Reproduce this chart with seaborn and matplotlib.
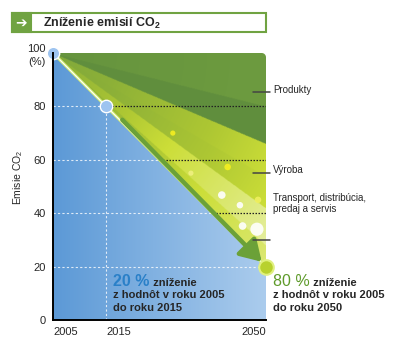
import numpy as np
import pandas as pd
import seaborn as sns
import matplotlib.pyplot as plt
from matplotlib.patches import Polygon, Rectangle
from matplotlib.colors import LinearSegmentedColormap

# data: emission path (index 100 = 2005)
years = ['2005', '2015', '2050']
xpos = [0, 1, 4]
emis = [100, 80, 20]
yticks = [0, 20, 40, 60, 80, 100]
sectors = ['Produkty', 'Výroba', 'Transport, distribúcia,\npredaj a servis']
sector_y = [86, 56, 43.5]
marks_y = [85.4, 55, 30]
dotted_y = [80, 60, 40]
glow_x = [2.25, 3.28, 2.59, 3.17, 3.51, 3.85, 3.56, 3.83]
glow_y = [70, 57.3, 55, 46.8, 43, 45, 35.2, 34]
glow_s = [14, 22, 14, 30, 22, 22, 30, 90]
glow_c = ['#f5f020', '#f5f020', '#f0f080', '#ffffff', '#ffffff', '#f0f060', '#ffffff', '#ffffff']

# wedge bands of the green area (angle from the 2005 point, degrees) and their shade
band_edges = [0, 14, 23, 30, 36, 42, 46]
band_shade = [0.08, 0.0, 0.62, 0.6, 0.82, 0.7]

sns.set_style("white")
plt.rcParams['font.family'] = ['Liberation Sans Narrow', 'Liberation Sans', 'DejaVu Sans']
plt.rcParams['mathtext.default'] = 'regular'
bold_fam = ['Liberation Sans', 'DejaVu Sans']

fig = plt.figure(figsize=(4, 3.54), dpi=100)
ax = fig.add_axes([53/400, 34/354, 213/400, 267/354])

# background gradients
X, Y = np.meshgrid(np.linspace(0, 4, 500), np.linspace(0, 100, 400))
dx = X*20
dy = 100 - Y
phi = np.degrees(np.arctan2(dy, dx))
r = np.clip(np.hypot(dx, dy)/113, 0, 1)
idx = np.clip(np.digitize(phi, band_edges) - 1, 0, len(band_shade) - 1)
t = np.array(band_shade)[idx]*(0.35 + 0.65*r)
gcmap = LinearSegmentedColormap.from_list('g', [
    (0.0, (0.38, 0.56, 0.24)), (0.08, (0.44, 0.62, 0.25)), (0.3, (0.55, 0.69, 0.22)),
    (0.45, (0.68, 0.78, 0.20)), (0.55, (0.80, 0.87, 0.22)), (0.7, (0.86, 0.91, 0.45)),
    (0.85, (0.92, 0.95, 0.72)), (1.0, (0.99, 1.0, 0.95))])
bcmap = LinearSegmentedColormap.from_list('b', [(0.36, 0.60, 0.84), (0.67, 0.80, 0.93)])

# green triangle with a small rounded top-right corner
a = np.linspace(0, np.pi/2, 8)
corner = [(4 - 0.08 + 0.08*np.cos(v), 100 - 1.6 + 1.6*np.sin(v)) for v in a[::-1]]
gpoly = Polygon([(0, 100)] + corner + [(4, 20)], closed=True, transform=ax.transData,
                facecolor='none', edgecolor='none')
bpoly = Polygon([(0, 100), (4, 20), (4, 0), (0, 0)], closed=True, transform=ax.transData, facecolor='none', edgecolor='none')
ax.add_patch(gpoly)
ax.add_patch(bpoly)
im1 = ax.imshow(t, extent=(0, 4, 0, 100), origin='lower', aspect='auto', cmap=gcmap, vmin=0, vmax=1,
                zorder=1, interpolation='bilinear')
im1.set_clip_path(gpoly)
im2 = ax.imshow(X, extent=(0, 4, 0, 100), origin='lower', aspect='auto', cmap=bcmap, vmin=0, vmax=4, zorder=1)
im2.set_clip_path(bpoly)

# grid lines
for yv in [80, 60, 40, 20]:
    xe = (100 - yv)/20
    ax.plot([0, xe], [yv, yv], color='white', lw=0.8, ls=(0, (2, 2)), alpha=0.8, zorder=2)
ax.plot([1, 1], [0, 80], color='white', lw=0.8, ls=(0, (2, 2)), alpha=0.8, zorder=2)
for yv in dotted_y:
    xs = (100 - yv)/20
    ax.plot([xs, 4], [yv, yv], color='#222222', lw=0.9, ls=(0, (1.2, 1.2)), zorder=2)

sns.scatterplot(x=glow_x, y=glow_y, s=glow_s, c=glow_c, edgecolor='none', ax=ax, zorder=3, alpha=0.9)

df = pd.DataFrame({'x': xpos, 'y': emis})
sns.lineplot(data=df, x='x', y='y', color=(0.82, 0.92, 0.45), lw=2.2, ax=ax, zorder=3)
sns.lineplot(data=df, x='x', y='y', color='white', lw=0.8, ax=ax, zorder=3)

ax.annotate('', xy=(3.92, 21.8), xytext=(1.3, 75),
            arrowprops=dict(arrowstyle='-|>,head_length=0.9,head_width=0.55', lw=3.2,
                            color=(0.42, 0.63, 0.22), mutation_scale=14, shrinkA=0, shrinkB=0),
            zorder=4)

# points
sns.scatterplot(x=xpos[:2], y=emis[:2], s=80, color=(0.62, 0.77, 0.94), edgecolor='white', linewidth=1,
                ax=ax, zorder=5, clip_on=False)
sns.scatterplot(x=[xpos[2]], y=[emis[2]], s=110, color=(0.72, 0.82, 0.18), edgecolor=(0.88, 0.94, 0.5),
                linewidth=1.5, ax=ax, zorder=5, clip_on=False)

# right-hand sector marks
for yv in marks_y:
    ax.plot([3.75, 4.07], [yv, yv], color='#444444', lw=1.1, clip_on=False, zorder=4)
for lab, yv in zip(sectors, sector_y):
    ax.text(4.13, yv, lab, fontsize=7, va='center', ha='left', linespacing=1.1)

# annotations
t1 = ax.text(1.13, 12.7, '20 %', fontsize=11.5, fontweight='bold', color='#2a80c8',
             family=bold_fam, va='baseline')
ax.annotate(' zníženie', xy=(1, 0), xycoords=t1, xytext=(0, 0.8), textcoords='offset points',
            fontsize=8, fontweight='bold', family=bold_fam, va='bottom')
ax.text(1.13, 8.2, 'z hodnôt v roku 2005', fontsize=8, fontweight='bold', family=bold_fam, va='baseline')
ax.text(1.13, 3.4, 'do roku 2015', fontsize=8, fontweight='bold', family=bold_fam, va='baseline')

t2 = ax.text(4.13, 12.7, '80 %', fontsize=11.5, color='#5e9a2a', family=bold_fam, va='baseline')
ax.annotate(' zníženie', xy=(1, 0), xycoords=t2, xytext=(0, 0.8), textcoords='offset points',
            fontsize=8, fontweight='bold', family=bold_fam, va='bottom', annotation_clip=False)
ax.text(4.13, 8.2, 'z hodnôt v roku 2005', fontsize=8, fontweight='bold', family=bold_fam,
        va='baseline', clip_on=False)
ax.text(4.13, 3.4, 'do roku 2050', fontsize=8, fontweight='bold', family=bold_fam,
        va='baseline', clip_on=False)

# axes
ax.set_xlim(0, 4)
ax.set_ylim(0, 100)
ax.set_xticks(xpos)
ax.set_xticklabels(years, fontsize=8)
for lab, ha in zip(ax.get_xticklabels(), ['left', 'left', 'right']):
    lab.set_ha(ha)
ax.set_yticks(yticks)
ax.set_yticklabels([str(v) for v in yticks[:-1]] + [''], fontsize=8)
ax.annotate('100', xy=(0, 100), xytext=(-5, 3), textcoords='offset points', ha='right', va='center',
            fontsize=8, annotation_clip=False)
ax.annotate('(%)', xy=(0, 100), xytext=(-5, -6.5), textcoords='offset points', ha='right', va='center',
            fontsize=8, annotation_clip=False)
ax.tick_params(axis='both', direction='out', length=3, width=0.8, color='black', pad=2)
ax.set_xlabel('')
ax.set_ylabel('')
for side in ['top', 'right']:
    ax.spines[side].set_visible(False)
for side in ['left', 'bottom']:
    ax.spines[side].set_color('black')
    ax.spines[side].set_linewidth(1.4)
    ax.spines[side].set_zorder(6)

fig.text(18/400, 1 - 177/354, 'Emisie CO$_2$', rotation=90, fontsize=7.5, va='center', ha='center')

# title box
green = (0.44, 0.64, 0.26)
fig.patches.append(Rectangle((12/400, 1 - 32/354), 254/400, 19/354, transform=fig.transFigure,
                             facecolor='white', edgecolor=green, lw=1.5))
fig.patches.append(Rectangle((12/400, 1 - 32/354), 19/400, 19/354, transform=fig.transFigure,
                             facecolor=green, edgecolor=green, lw=1.5))
fig.text(21.5/400, 1 - 22.5/354, '➔', color='white', fontsize=10,
         ha='center', va='center', family='DejaVu Sans')
fig.text(43/400, 1 - 23/354, 'Zníženie emisií CO$_2$', fontsize=9, fontweight='bold',
         family=bold_fam, ha='left', va='center')

plt.savefig('out.png', dpi=100)
